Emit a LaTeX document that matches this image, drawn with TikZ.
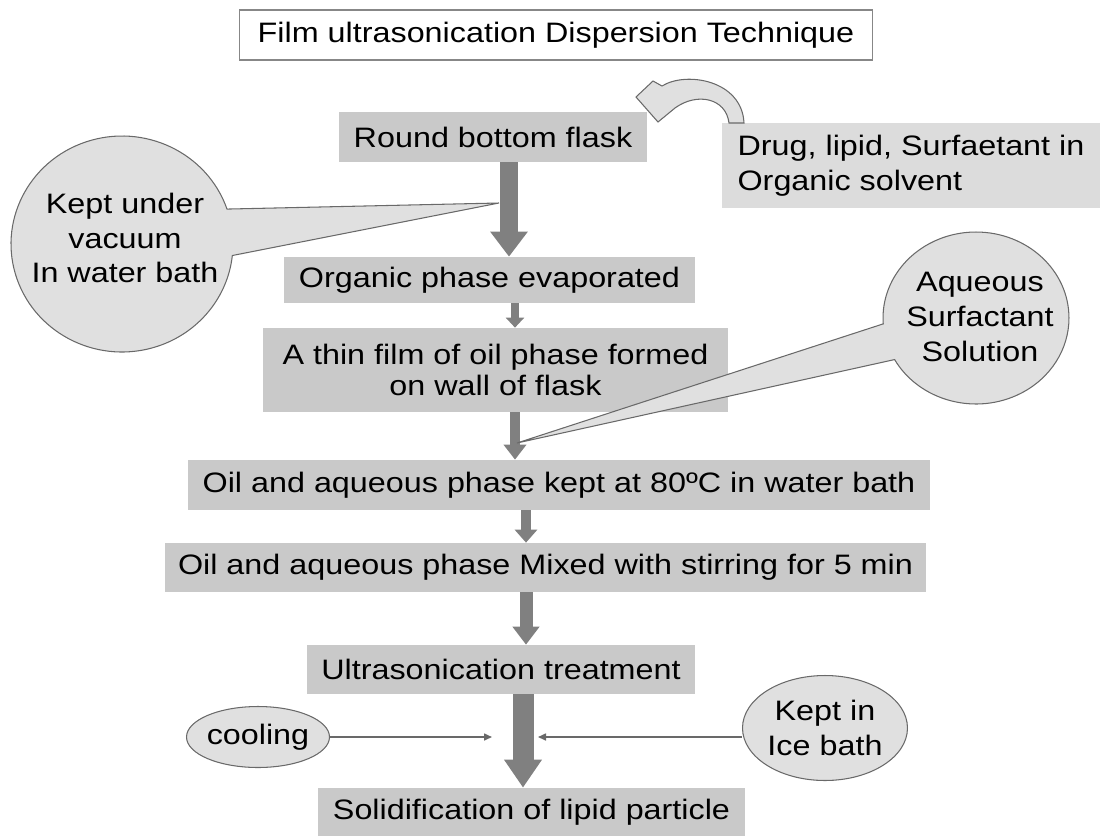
\documentclass[tikz,border=0pt]{standalone}
\usepackage{fontspec}
\setmainfont[FakeStretch=1.15]{Liberation Sans}
\usetikzlibrary{shapes.geometric,shapes.callouts,arrows.meta}
\definecolor{boxgray}{RGB}{201,201,201}
\definecolor{palegray}{RGB}{220,220,220}
\definecolor{bubblegray}{RGB}{224,224,224}
\definecolor{edgegray}{RGB}{105,105,105}
\definecolor{arrowgray}{RGB}{128,128,128}
\tikzset{
  titlebox/.style={rectangle,draw=edgegray!80,line width=0.9pt,fill=white,inner sep=0pt},
  stepbox/.style={rectangle,fill=boxgray,inner sep=0pt},
  drugbox/.style={rectangle,fill=palegray,inner sep=0pt},
  bubble/.style={ellipse callout,fill=bubblegray,draw=edgegray,line width=0.6pt,inner sep=0pt,callout pointer arc=25},
  oval/.style={ellipse,fill=bubblegray,draw=edgegray,line width=0.6pt,inner sep=0pt},
  flow/.style n args={3}{draw=arrowgray,line width=#1,-{Triangle[width=#2,length=#3]}},
  feed/.style={draw=edgegray,line width=0.9pt,-{Triangle[width=0.14cm,length=0.16cm]}}
}
\begin{document}
\begin{tikzpicture}[x=0.02cm,y=-0.02cm,font=\fontsize{16}{19.8}\selectfont]
\useasboundingbox (0,0) rectangle (1100,836);
% columns of the arrows
\coordinate (colA) at (509,0);
\coordinate (colB) at (515,0);
\coordinate (colC) at (526,0);
\coordinate (colD) at (523,0);
% steps
\node[titlebox,minimum width=12.66cm,minimum height=1cm] (title) at (556,35) {Film ultrasonication Dispersion Technique};
\node[stepbox,minimum width=6.16cm,minimum height=1cm] (rbf) at (493,137) {Round bottom flask};
\node[drugbox,minimum width=7.56cm,minimum height=1.7cm,align=left] (drug) at (911,165.5) {Drug, lipid, Surfaetant in\\Organic solvent};
\node[stepbox,minimum width=8.22cm,minimum height=0.92cm] (org) at (489.5,280) {Organic phase evaporated};
\node[stepbox,minimum width=9.3cm,minimum height=1.68cm,align=center,font=\fontsize{16}{17.5}\selectfont] (film) at (495.5,370) {A thin film of oil phase formed\\on wall of flask};
\node[stepbox,minimum width=14.84cm,minimum height=1cm] (hot) at (559,485) {Oil and aqueous phase kept at 80ºC in water bath};
\node[stepbox,minimum width=15.22cm,minimum height=0.98cm] (mix) at (545.5,567.5) {Oil and aqueous phase Mixed with stirring for 5 min};
\node[stepbox,minimum width=7.76cm,minimum height=0.98cm] (ultra) at (501,669.5) {Ultrasonication treatment};
\node[stepbox,minimum width=8.54cm,minimum height=0.96cm] (solid) at (531.5,812) {Solidification of lipid particle};
% block arrows
\draw[flow={0.36cm}{0.72cm}{0.5cm}] (rbf.south -| colA) -- (org.north -| colA);
\draw[flow={0.16cm}{0.36cm}{0.2cm}] (org.south -| colB) -- (film.north -| colB);
\draw[flow={0.2cm}{0.44cm}{0.3cm}] (film.south -| colB) -- (hot.north -| colB);
\draw[flow={0.2cm}{0.44cm}{0.26cm}] (hot.south -| colC) -- (mix.north -| colC);
\draw[flow={0.26cm}{0.52cm}{0.36cm}] (mix.south -| colC) -- (ultra.north -| colC);
\draw[flow={0.42cm}{0.72cm}{0.56cm}] (ultra.south -| colD) -- (solid.north -| colD);
% curved arrow
\draw[edgegray,fill=bubblegray,line width=0.6pt] (636,97) -- (653,81) -- (662,86)
  .. controls (686,71) and (742,80) .. (744,123) -- (729,123)
  .. controls (726,98) and (697,92) .. (675,108) -- (658,122) -- cycle;
% callouts
\coordinate (tipA) at (499,203);
\coordinate (tipB) at (517,443);
\node[bubble,minimum width=4.44cm,minimum height=4.32cm,callout absolute pointer={(tipA)}] (vac) at (122,244) {};
\node[align=center] (vactxt) at (125,238) {Kept under\\vacuum\\In water bath};
\node[bubble,minimum width=3.72cm,minimum height=3.44cm,callout absolute pointer={(tipB)}] (aq) at (976,318) {};
\node[align=center] (aqtxt) at (980,317) {Aqueous\\Surfactant\\Solution};
% cooling
\node[oval,minimum width=2.86cm,minimum height=1.22cm] (cool) at (258,737) {};
\node (cooltxt) at (cool) {cooling};
\node[oval,minimum width=3.3cm,minimum height=2.1cm] (ice) at (825,728) {};
\node[align=center] (icetxt) at (ice) {Kept in\\Ice bath};
\coordinate (inL) at (492,737);
\coordinate (inR) at (538,737);
\draw[feed] (cool) -- (inL);
\draw[feed] (ice.west |- inR) -- (inR);
\end{tikzpicture}
\end{document}
